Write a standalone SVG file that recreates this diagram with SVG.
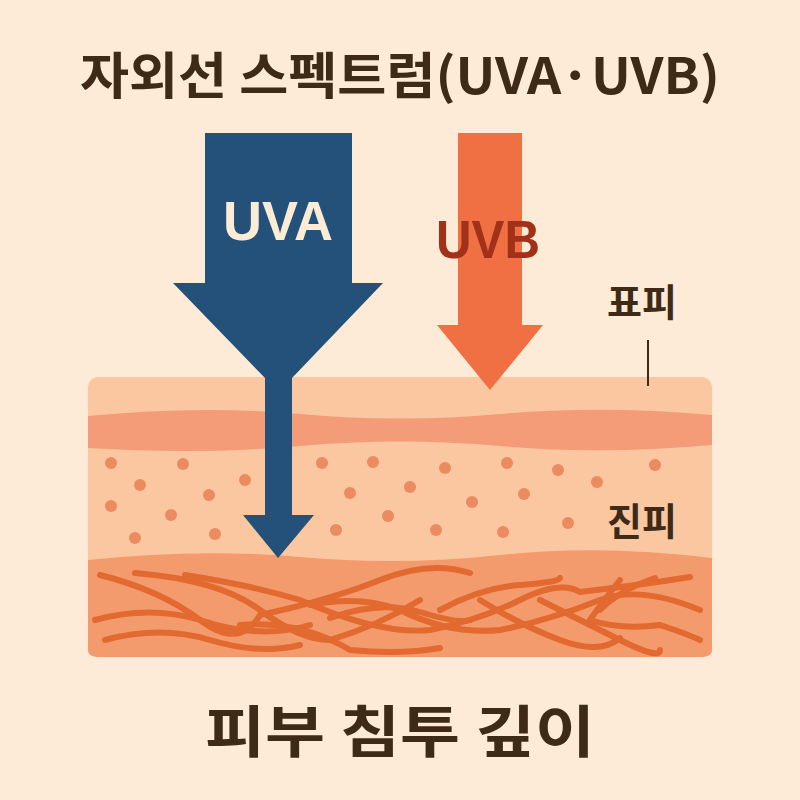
<svg xmlns="http://www.w3.org/2000/svg" width="800" height="800" viewBox="0 0 800 800">
<style>
.t{font-family:"Noto Sans CJK KR","Noto Sans",sans-serif;font-weight:700;fill:#3e2a17;text-anchor:middle}
.dot{fill:#ec8a60}
.fib{fill:none;stroke:#e2692f;stroke-width:6;stroke-linecap:round}
</style>
<rect width="800" height="800" fill="#fdebd8"/>
<g id="title"><text class="t" x="400" y="94" font-size="50" textLength="640" lengthAdjust="spacingAndGlyphs">자외선 스펙트럼(UVA·UVB)</text></g>
<g id="skin">
<rect x="88" y="377" width="624" height="280" rx="10" fill="#fbc7a1"/>
<path d="M88 416 Q200 405 300 414 T500 414 T712 415 V445 Q600 455 500 446 T300 446 T88 448 Z" fill="#f39c77"/>
<path d="M88 560 Q200 548 300 557 T500 555 T712 558 V650 Q712 657 702 657 H98 Q88 657 88 650 Z" fill="#f39b6c"/>
<g class="dot">
<circle cx="111" cy="463" r="6"/><circle cx="183" cy="464" r="6"/><circle cx="322" cy="463" r="6"/><circle cx="373" cy="462" r="6"/><circle cx="445" cy="468" r="6"/><circle cx="507" cy="463" r="6"/><circle cx="558" cy="470" r="6"/><circle cx="655" cy="465" r="6"/>
<circle cx="140" cy="485" r="6"/><circle cx="245" cy="480" r="6"/><circle cx="209" cy="495" r="6"/><circle cx="350" cy="493" r="6"/><circle cx="410" cy="487" r="6"/><circle cx="524" cy="494" r="6"/><circle cx="597" cy="482" r="6"/><circle cx="111" cy="506" r="6"/>
<circle cx="171" cy="515" r="6"/><circle cx="472" cy="502" r="6"/><circle cx="388" cy="516" r="6"/><circle cx="135" cy="538" r="6"/><circle cx="215" cy="534" r="6"/><circle cx="336" cy="530" r="6"/><circle cx="436" cy="530" r="6"/><circle cx="503" cy="532" r="6"/><circle cx="568" cy="523" r="6"/>
</g>
<g class="fib">
<path d="M100 575 Q160 590 200 620 T260 615 Q330 600 380 580 T470 573"/>
<path d="M135 573 Q220 580 260 610 T330 640 Q380 625 420 600"/>
<path d="M185 575 Q250 585 300 600 Q380 635 430 630 Q480 620 520 600 T580 592 Q640 585 690 577"/>
<path d="M95 620 Q150 605 200 620 Q260 640 310 625"/>
<path d="M240 625 Q300 620 350 650 Q400 655 440 648"/>
<path d="M105 640 Q160 625 210 640 T300 645"/>
<path d="M310 605 Q360 595 400 610 Q450 635 500 630 Q550 620 600 600 Q640 585 700 610"/>
<path d="M330 618 Q380 600 420 612 T470 620"/>
<path d="M440 610 Q480 588 520 585 T560 578"/>
<path d="M480 600 Q520 625 560 640 T620 638"/>
<path d="M620 580 Q600 605 590 620 Q620 630 660 625 Q690 635 700 640"/>
<path d="M540 600 Q580 620 620 640 T660 650"/>
<path d="M655 578 Q620 590 600 610"/>
</g>
</g>
<g id="labels">
<text class="t" x="642" y="316" font-size="38">표피</text>
<line x1="648" y1="340" x2="648" y2="386" stroke="#3e2a17" stroke-width="2"/>
<text class="t" x="642" y="535" font-size="38">진피</text>
</g>
<g id="connectors">
<g id="uva"><path d="M205 133 H352 V283 H383 L292 378 V515 H314 L278 558 L243 515 H265 V378 L173 283 H205 Z" fill="#245179"/>
<text x="278" y="240" font-family="Liberation Sans,sans-serif" font-weight="700" font-size="56" fill="#fbecd6" text-anchor="middle" textLength="110" lengthAdjust="spacingAndGlyphs">UVA</text></g>
<g id="uvb"><path d="M458 133 H522 V325 H543 L490 390 L437 325 H458 Z" fill="#f06f43"/>
<text x="488" y="258" font-family="Liberation Sans,sans-serif" font-weight="700" font-size="54" fill="#a13219" text-anchor="middle" textLength="104" lengthAdjust="spacingAndGlyphs">UVB</text></g>
</g>
<g id="footer"><text class="t" x="400" y="752" font-size="56" textLength="390" lengthAdjust="spacingAndGlyphs">피부 침투 깊이</text></g>
</svg>
